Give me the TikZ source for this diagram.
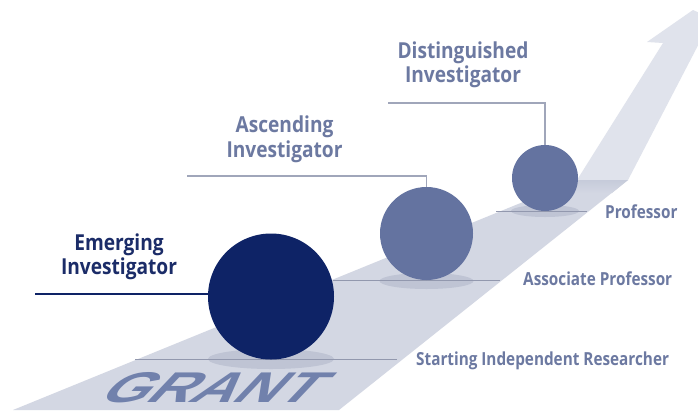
\documentclass[tikz,border=0pt]{standalone}
\usepackage{fontspec}
\setmainfont{Open Sans}
\newfontfamily\grantfont[FakeSlant=0.95,FakeStretch=1.4]{Liberation Sans}
\usepackage{graphicx}
\definecolor{navy}{HTML}{0E2366}
\definecolor{navytext}{HTML}{1B2C68}
\definecolor{ballc}{HTML}{6473A0}
\definecolor{labgray}{HTML}{6C79A1}
\definecolor{bandc}{HTML}{D3D7E3}
\definecolor{arrowc}{HTML}{E0E3EC}
\definecolor{foldc}{HTML}{C6CBDA}
\definecolor{shadowc}{HTML}{BFC4D4}
\definecolor{leadc}{HTML}{A0A6BA}
\definecolor{floorc}{HTML}{9298AE}
\definecolor{grantc}{HTML}{7181AC}
\newcommand\sqz[1]{\scalebox{0.87}[1]{#1}}
\newcommand\sqr[1]{\scalebox{0.85}[1]{#1}}
\begin{document}
\begin{tikzpicture}[x=1pt,y=-1pt,
  heading/.style={align=center, inner sep=0pt, font=\fontsize{22}{24.5}\selectfont\bfseries},
  rank/.style={anchor=base west, inner sep=0pt, text=labgray, font=\fontsize{18}{18}\selectfont\bfseries},
  ball/.style={circle, inner sep=0pt, draw=none},
  shadowell/.style={fill=shadowc},
  leader/.style={draw=leadc, line width=1.5pt},
  floorline/.style={draw=floorc, line width=1pt}]
\useasboundingbox (0,0) rectangle (698,410);
\clip (0,0) rectangle (698,410);
\fill[white] (0,0) rectangle (698,410);
% path band and arrow
\fill[bandc] (13,410) -- (577,180) -- (628,180) -- (339,410) -- cycle;
\fill[arrowc] (577,180) -- (663,43) -- (647,42) -- (693,10) -- (706,16) -- (706,30) -- (628,180) -- cycle;
\shade[top color=foldc, bottom color=bandc] (577,180) -- (628,180) -- (612,193) -- (545,193) -- cycle;
% GRANT
\node[anchor=base west, inner sep=0pt, text=grantc,
      font=\grantfont\bfseries\fontsize{43}{43}\selectfont] (grant) at (96,402) {GRANT};
% shadows
\fill[shadowell] (271,359) ellipse [x radius=63, y radius=10];
\fill[shadowell] (426.5,281) ellipse [x radius=47, y radius=8];
\fill[shadowell] (545,211) ellipse [x radius=34, y radius=6];
% floor lines
\coordinate (s1) at (135,359); \coordinate (s2) at (397,359);
\coordinate (a1) at (333,280); \coordinate (a2) at (500,280);
\coordinate (p1) at (496,211); \coordinate (p2) at (587,211);
\draw[floorline] (s1) -- (s2);
\draw[floorline] (a1) -- (a2);
\draw[floorline] (p1) -- (p2);
% balls
\node[ball, fill=navy, minimum size=126pt] (big) at (271,296.5) {};
\node[ball, fill=ballc, minimum size=93pt] (med) at (426.5,233.5) {};
\node[ball, fill=ballc, minimum size=66pt] (small) at (545,178) {};
% headings
\node[heading, text=navytext] (emerg) at (119,257) {\sqz{Emerging}\\\sqz{Investigator}};
\node[heading, text=labgray] (ascend) at (284.5,139.5) {\sqz{Ascending}\\\sqz{Investigator}};
\node[heading, text=labgray] (disting) at (463,65) {\sqz{Distinguished}\\\sqz{Investigator}};
% leaders
\coordinate (eL) at (35,294);
\coordinate (aL) at (187,176);
\coordinate (dL) at (388,103);
\draw[draw=navy, line width=2pt] (eL) -- (big.west |- eL);
\draw[leader] (aL) -- (aL -| med.north) -- (med.north);
\draw[leader] (dL) -- (dL -| small.north) -- (small.north);
% rank labels
\node[rank] (prof) at (605,218) {\sqr{Professor}};
\node[rank] (assoc) at (523,285) {\sqr{Associate Professor}};
\node[rank] (start) at (416,365) {\sqr{Starting Independent Researcher}};
\end{tikzpicture}
\end{document}
